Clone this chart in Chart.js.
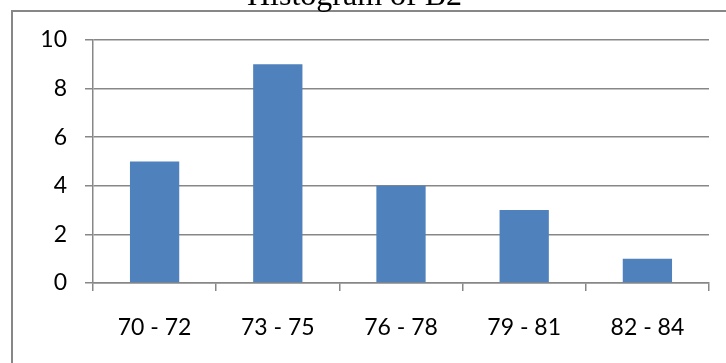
<!DOCTYPE html>
<html>
<head>
<meta charset="utf-8">
<script src="https://cdn.jsdelivr.net/npm/chart.js@4/dist/chart.umd.min.js"></script>
<style>
  html, body { margin: 0; padding: 0; background: #fff; overflow: hidden; }
  #stage { position: relative; width: 726px; height: 363px; overflow: hidden; background: #fff; }
  #wrap { position: absolute; left: 0; top: -23px; width: 726px; height: 386px; }
  #frame { position: absolute; left: 11px; top: 10px; width: 800px; height: 500px;
           border: 2px solid #878787; pointer-events: none; box-sizing: border-box; }
</style>
</head>
<body>
<div id="stage">
  <div id="frame"></div>
  <div id="wrap"><canvas id="c"></canvas></div>
</div>
<script>
const chartTitle = "Histogram of B2";
const categories = ["70 - 72", "73 - 75", "76 - 78", "79 - 81", "82 - 84"];
const frequencies = [5, 9, 4, 3, 1];
const yMin = 0, yMax = 10, yStep = 2;

const gridGray = "#878787";
const labelFont = { family: "Lato, 'Open Sans', 'Liberation Sans', sans-serif", size: 23 };

new Chart(document.getElementById("c"), {
  type: "bar",
  data: {
    labels: categories,
    datasets: [{
      label: "Frequency",
      data: frequencies,
      backgroundColor: "#4F81BD",
      borderWidth: 0,
      barPercentage: 0.4,
      categoryPercentage: 1.0
    }]
  },
  options: {
    responsive: true,
    maintainAspectRatio: false,
    animation: false,
    layout: { padding: { left: 0, right: 17, top: 0, bottom: 0 } },
    plugins: {
      legend: { display: false },
      tooltip: { enabled: false },
      title: {
        display: true,
        text: chartTitle,
        color: "#000",
        font: { family: "'Liberation Serif', 'Times New Roman', serif", size: 32, weight: "normal", lineHeight: 1.2 },
        padding: { top: 0, bottom: 24.6 }
      }
    },
    scales: {
      x: {
        offset: true,
        afterFit: (s) => { s.height = 80; },
        grid: {
          offset: true,
          drawOnChartArea: false,
          drawTicks: true,
          tickLength: 8,
          color: gridGray,
          lineWidth: 1.5
        },
        border: { display: true, color: gridGray, width: 1.5 },
        ticks: {
          color: "#000",
          padding: 23,
          maxRotation: 0,
          font: labelFont
        }
      },
      y: {
        min: yMin,
        max: yMax,
        afterFit: (s) => { s.width = 93; },
        grid: {
          drawTicks: true,
          tickLength: 8,
          color: gridGray,
          lineWidth: 1.5
        },
        border: { display: true, color: gridGray, width: 1.5 },
        ticks: {
          stepSize: yStep,
          color: "#000",
          padding: 18,
          font: labelFont
        }
      }
    }
  }
});
</script>
</body>
</html>
